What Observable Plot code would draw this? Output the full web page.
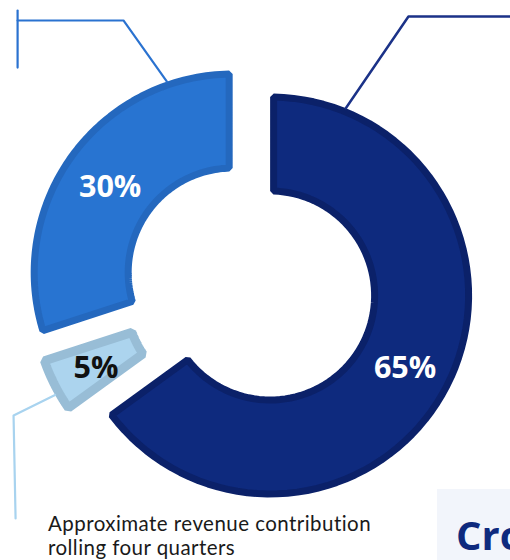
<!DOCTYPE html>
<html><head><meta charset="utf-8">
<script src="https://cdn.jsdelivr.net/npm/d3@7"></script>
<script src="https://cdn.jsdelivr.net/npm/@observablehq/plot@0.6"></script>
<style>
html,body{margin:0;padding:0;background:#fff;overflow:hidden;width:510px;height:560px}
#chart svg{display:block}
.caption{margin-top:-9px;padding-left:48px;font:20.5px Lato,"Open Sans",sans-serif;line-height:24px;letter-spacing:0.45px;color:#1a1a1a}
.cro{position:absolute;left:437px;top:489px;width:120px;height:90px;background:#f2f5fb;overflow:hidden}
.cro span{position:absolute;left:19px;top:18px;font:bold 40px "Open Sans",sans-serif;color:#0e2a7e;white-space:nowrap}
</style>
</head><body>
<div id="chart"></div>
<div class="caption">Approximate revenue contribution<br>rolling four quarters</div>
<div class="cro"><span>Cross</span></div>
<script>
// ---- data ----
const segments = ["Segment A", "Segment B", "Segment C"];
const shares = [65, 5, 30];
const labels = ["65%", "5%", "30%"];
const fills = ["#0e2a7e", "#acd4ee", "#2874d1"];
const borders = ["#0b2169", "#98bdd6", "#2468be"];
const labelColors = ["#ffffff", "#111111", "#ffffff"];
const leaderColors = ["#1b3288", "#a8d3ef", "#2a72d0"];
// leader lines: attach angle on outer edge (deg), elbow and end (chart units)
const leaderAngles = [22, 240.5, 341];
const leaderElbows = [[0.782, 1.332], [-1.173, -0.644], [-0.629, 1.312]];
const leaderEnds = [[1.30, 1.332], [-1.163, -1.153], [-1.153, 1.312]];
const tickMarks = [[[-1.153, 1.361], [-1.153, 1.079]]];

// ---- geometry helpers ----
const K = 202;             // px per unit
const W = 510, H = 520;
const R = 1, r = 0.5, explode = 0.109;
const borderW = [7, 9, 7];
const rad = d => d * Math.PI / 180;
const total = d3.sum(shares);
let acc = 0;
const slices = shares.map((v, i) => {
  const a0 = acc / total * 2 * Math.PI; acc += v;
  const a1 = acc / total * 2 * Math.PI;
  const mid = (a0 + a1) / 2;
  return {i, a0, a1, mid, cx: explode * Math.sin(mid), cy: explode * Math.cos(mid)};
});
function sector(s, inset) {
  const Ro = R - inset, Ri = r + inset, pts = [], n = 80;
  const o0 = s.a0 + Math.asin(inset / Ro), o1 = s.a1 - Math.asin(inset / Ro);
  const i0 = s.a0 + Math.asin(inset / Ri), i1 = s.a1 - Math.asin(inset / Ri);
  for (let k = 0; k <= n; k++) { const t = o0 + (o1 - o0) * k / n; pts.push({x: s.cx + Ro * Math.sin(t), y: s.cy + Ro * Math.cos(t)}); }
  for (let k = 0; k <= n; k++) { const t = i1 + (i0 - i1) * k / n; pts.push({x: s.cx + Ri * Math.sin(t), y: s.cy + Ri * Math.cos(t)}); }
  return pts;
}
const marks = [];
slices.forEach(s => {
  const bw = borderW[s.i];
  marks.push(Plot.line(sector(s, bw / 2 / K), {x: "x", y: "y", curve: "linear-closed",
    fill: fills[s.i], stroke: borders[s.i], strokeWidth: bw, strokeLinejoin: "miter"}));
});
slices.forEach(s => {
  const t = rad(leaderAngles[s.i]);
  const pts = [{x: s.cx + R * Math.sin(t), y: s.cy + R * Math.cos(t)},
    {x: leaderElbows[s.i][0], y: leaderElbows[s.i][1]},
    {x: leaderEnds[s.i][0], y: leaderEnds[s.i][1]}];
  marks.push(Plot.line(pts, {x: "x", y: "y", stroke: leaderColors[s.i], strokeWidth: s.i === 0 ? 2.5 : 2.2}));
});
tickMarks.forEach(tm => marks.push(Plot.line(tm.map(p => ({x: p[0], y: p[1]})), {x: "x", y: "y", stroke: leaderColors[2], strokeWidth: 2.2})));
const labelData = slices.map(s => ({x: s.cx + (R + r) / 2 * Math.sin(s.mid), y: s.cy + (R + r) / 2 * Math.cos(s.mid), t: labels[s.i], c: labelColors[s.i]}));
marks.push(Plot.text(labelData, {x: "x", y: "y", text: "t", fill: d => d.c, fontSize: 30.5, fontWeight: 700, fontFamily: "Open Sans", dy: 4}));

const chart = Plot.plot({
  width: W, height: H, margin: 0,
  x: {domain: [-250 / K, (W - 250) / K], axis: null},
  y: {domain: [-(H - 285) / K, 285 / K], axis: null},
  color: {type: "identity"},
  marks
});
document.getElementById("chart").append(chart);
</script>
</body></html>
